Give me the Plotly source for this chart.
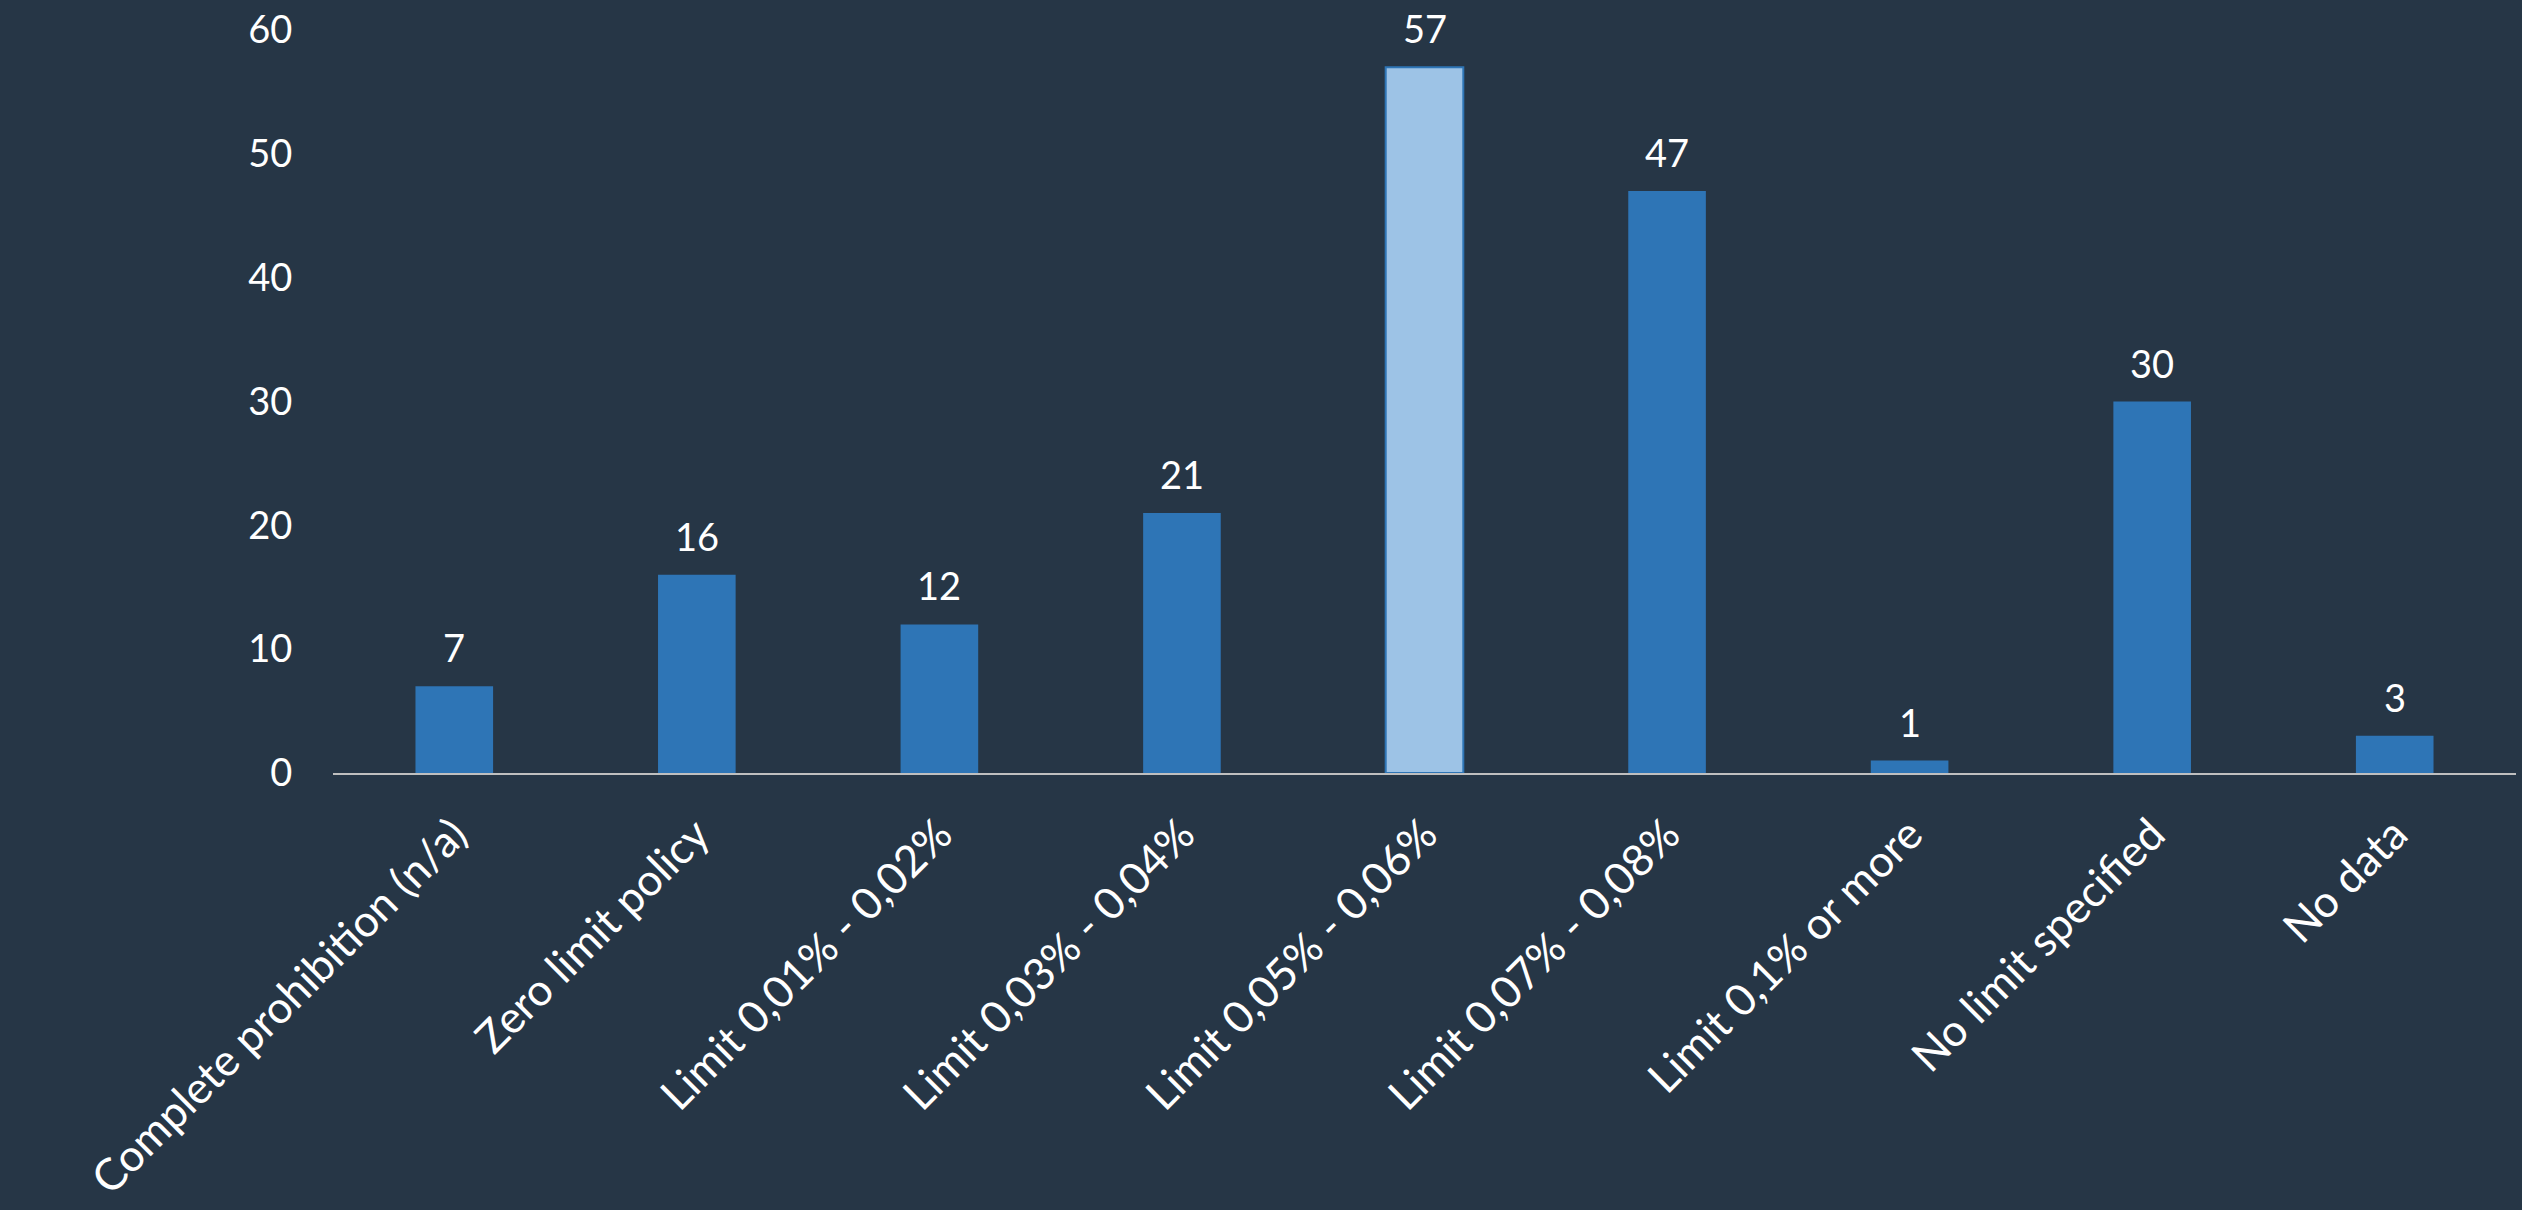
import plotly.graph_objects as go

categories = [
    "Complete prohibition (n/a)",
    "Zero limit policy",
    "Limit 0,01% - 0,02%",
    "Limit 0,03% - 0,04%",
    "Limit 0,05% - 0,06%",
    "Limit 0,07% - 0,08%",
    "Limit 0,1% or more",
    "No limit specified",
    "No data",
]
values = [7, 16, 12, 21, 57, 47, 1, 30, 3]
highlight = "Limit 0,05% - 0,06%"
y_ticks = [0, 10, 20, 30, 40, 50, 60]

BG = "#263646"
BLUE = "#2E75B6"
LIGHT = "#9DC3E6"
FONT = "Lato, 'Open Sans', sans-serif"

colors = [LIGHT if c == highlight else BLUE for c in categories]
line_w = [2 if c == highlight else 0 for c in categories]

fig = go.Figure()
fig.add_trace(go.Bar(
    x=categories,
    y=values,
    width=0.32,
    marker=dict(color=colors, line=dict(color=BLUE, width=line_w)),
    hoverinfo="x+y",
))

for c, v in zip(categories, values):
    fig.add_annotation(
        x=c, y=v, text=str(v), showarrow=False,
        yanchor="bottom", yshift=14,
        font=dict(family=FONT, size=38, color="white"),
    )

fig.update_layout(
    width=2522,
    height=1210,
    paper_bgcolor=BG,
    plot_bgcolor=BG,
    margin=dict(l=333, r=6, t=30, b=437),
    showlegend=False,
    font=dict(family=FONT, color="white", size=37),
    bargap=0.68,
)
fig.update_xaxes(
    tickangle=-45,
    showline=True,
    linecolor="#BFBFBF",
    linewidth=2,
    showgrid=False,
    ticks="outside",
    ticklen=16,
    tickcolor=BG,
    tickfont=dict(family=FONT, size=44, color="white"),
    fixedrange=True,
)
fig.update_yaxes(
    range=[0, 60],
    tickvals=y_ticks,
    showgrid=False,
    zeroline=False,
    showline=False,
    ticks="outside",
    ticklen=32,
    tickcolor=BG,
    tickfont=dict(family=FONT, size=38, color="white"),
    fixedrange=True,
)

fig.write_html(
    "out.html",
    config={"displayModeBar": False},
    post_script="document.body.style.margin='0px';document.body.style.background='%s';" % BG,
)
